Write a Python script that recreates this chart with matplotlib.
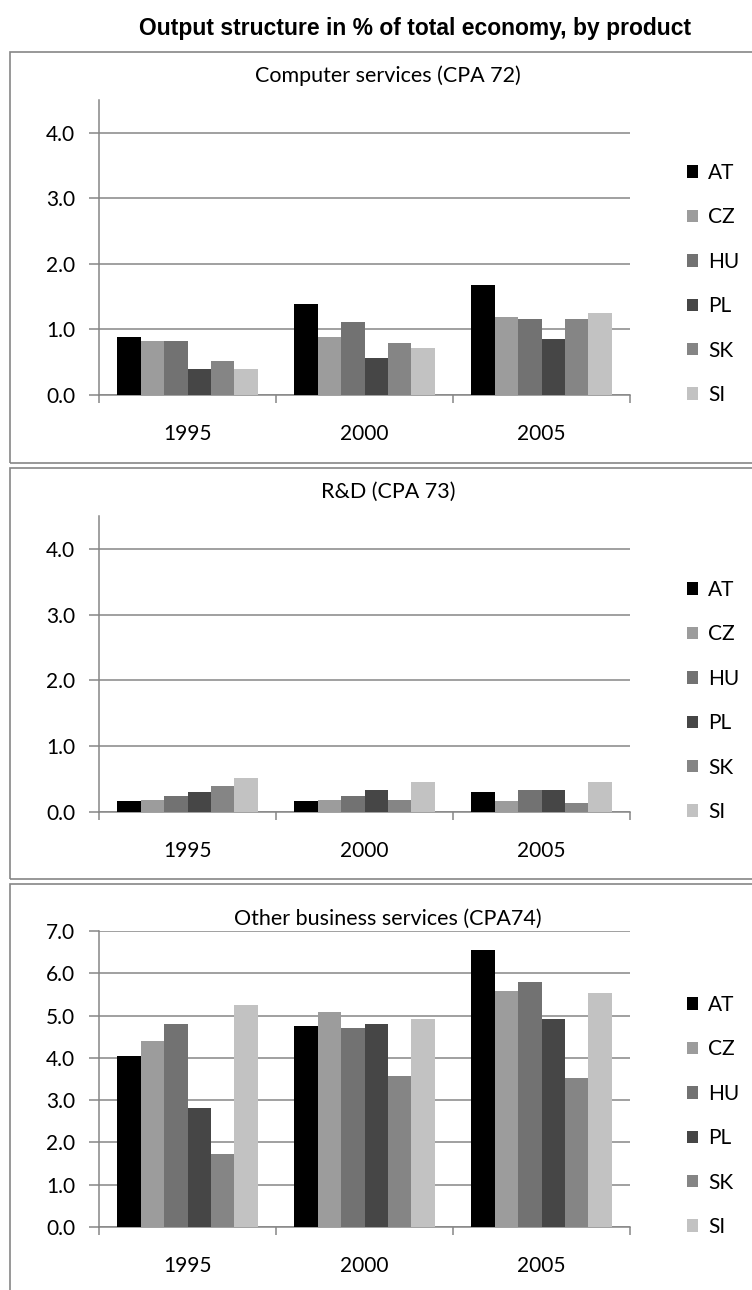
import numpy as np
import matplotlib.pyplot as plt
from matplotlib.patches import Rectangle

# data
years = ['1995', '2000', '2005']
countries = ['AT', 'CZ', 'HU', 'PL', 'SK', 'SI']
colors = ['#000000', '#9c9c9c', '#727272', '#464646', '#858585', '#c2c2c2']

computer = [[0.88, 1.39, 1.68],   # AT
            [0.83, 0.88, 1.19],   # CZ
            [0.83, 1.11, 1.16],   # HU
            [0.40, 0.57, 0.85],   # PL
            [0.52, 0.80, 1.16],   # SK
            [0.40, 0.71, 1.25]]   # SI
rnd = [[0.16, 0.16, 0.31],
       [0.19, 0.19, 0.16],
       [0.25, 0.25, 0.33],
       [0.31, 0.33, 0.33],
       [0.39, 0.19, 0.13],
       [0.51, 0.45, 0.45]]
other = [[4.04, 4.75, 6.54],
         [4.40, 5.09, 5.57],
         [4.79, 4.71, 5.79],
         [2.81, 4.79, 4.92],
         [1.72, 3.56, 3.52],
         [5.24, 4.92, 5.53]]

titles = ['Computer services (CPA 72)', 'R&D (CPA 73)', 'Other business services (CPA74)']

W, H = 752, 1290
GRID = '#868686'
plt.rcParams['font.family'] = ['Lato', 'DejaVu Sans']

fig = plt.figure(figsize=(W / 100, H / 100), dpi=100)


def fx(x):
    return x / W


def fy(y):
    return 1 - y / H


# panels: (box top, box bottom, axes top, axes bottom, ymax, data)
panels = [(52, 463, 100, 395, 4.5, computer),
          (468, 879, 516, 812, 4.5, rnd),
          (884, 1300, 931, 1227, 7.0, other)]

fig.text(fx(415), fy(28), 'Output structure in % of total economy, by product',
         ha='center', va='center', fontsize=16.5, fontweight='bold',
         family=['Liberation Sans', 'DejaVu Sans'])

x = np.arange(len(years))
n = len(countries)
bw = 1 / (n + 1.55)

for i, (bt, bb, at, ab, ymax, data) in enumerate(panels):
    # rahmen um jedes diagramm
    fig.patches.append(Rectangle((fx(10), fy(bb)), fx(760) - fx(10), fy(bt) - fy(bb),
                                 transform=fig.transFigure, fill=False,
                                 edgecolor=GRID, linewidth=1.2))
    ax = fig.add_axes([fx(99), fy(ab), fx(630) - fx(99), fy(at) - fy(ab)])
    handles = []
    for k in range(n):
        b = ax.bar(x + (k - (n - 1) / 2) * bw, data[k], bw, color=colors[k],
                   label=countries[k], zorder=3)
        handles.append(b)
    ax.set_xlim(-0.5, 2.5)
    ax.set_ylim(0, ymax)
    ax.set_yticks(np.arange(0, int(ymax) + 1))
    ax.set_yticklabels(['%.1f' % v for v in np.arange(0, int(ymax) + 1)])
    ax.set_xticks(x)
    ax.set_xticklabels(years)
    ax.set_xticks([-0.5, 0.5, 1.5, 2.5], minor=True)
    ax.tick_params(axis='x', which='major', length=0, pad=21, labelsize=15)
    ax.tick_params(axis='x', which='minor', length=6, width=1.1, color=GRID)
    ax.tick_params(axis='y', length=7, width=1.1, color=GRID, pad=10, labelsize=15)
    ax.grid(axis='y', color=GRID, linewidth=1.1, zorder=0)
    ax.set_axisbelow(True)
    for s in ['top', 'right']:
        ax.spines[s].set_visible(False)
    for s in ['left', 'bottom']:
        ax.spines[s].set_color(GRID)
        ax.spines[s].set_linewidth(1.1)

    title_y = at - 24 if ymax < 5 else at - 12
    fig.text(fx(388), fy(title_y), titles[i], ha='center', va='center', fontsize=15.5)

    leg_center = ab - 111
    fig.legend(handles, countries, loc='center left',
               bbox_to_anchor=(fx(687), fy(leg_center)), frameon=False,
               fontsize=15, handlelength=0.55, handleheight=0.55,
               handletextpad=0.45, labelspacing=1.17, borderpad=0, borderaxespad=0)

fig.savefig('out.png', dpi=100)
